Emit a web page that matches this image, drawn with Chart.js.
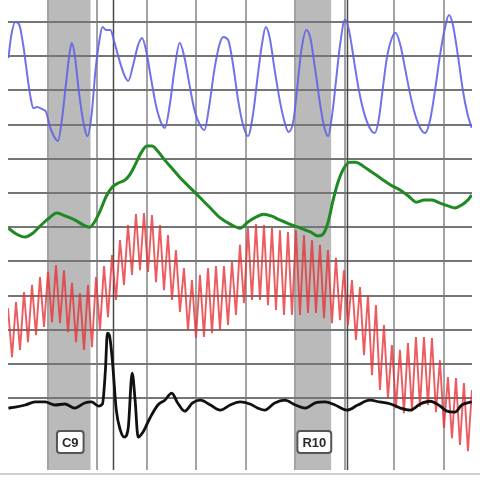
<!DOCTYPE html>
<html>
<head>
<meta charset="utf-8">
<script src="https://cdn.jsdelivr.net/npm/chart.js@4.4.1/dist/chart.umd.min.js"></script>
<style>
  html, body { margin: 0; padding: 0; background: #fff; }
  #chartBox { width: 480px; height: 480px; }
</style>
</head>
<body>
<div id="chartBox"><canvas id="chart" width="480" height="480"></canvas></div>
<script>
// time axis in tenths of a second, trace amplitude in chart divisions x10
const gridTimes = [50, 100, 150, 200, 250, 300, 350, 400, 450];
const gridLevels = [10, 20, 30, 40, 50, 60, 70, 80, 90, 100, 110, 120];

// question markers
const questionLabels = ['C9', 'R10'];
const questionStart = [50, 300];
const questionEnd = [93, 336];
const answerTime = [116, 352];

// pneumo (blue)
const blueTime = [10, 13, 17, 21, 25, 29, 32, 35, 39, 44, 48, 52, 56, 60, 64, 68, 72, 74, 77, 81,
  85, 90, 94, 98, 102, 105, 109, 113, 117, 122, 127, 131, 136, 141, 145, 149, 154, 159, 164, 168,
  173, 178, 183, 188, 193, 198, 204, 208, 213, 218, 223, 227, 232, 237, 242, 247, 252, 257, 262, 266,
  270, 274, 279, 284, 289, 293, 298, 302, 306, 311, 315, 320, 325, 329, 333, 337, 341, 345, 350, 354,
  359, 364, 369, 375, 380, 384, 388, 392, 396, 401, 406, 411, 416, 421, 426, 431, 436, 441, 446, 451,
  455, 459, 464, 469, 474, 478];
const blueValues = [109.4, 116.2, 120.0, 119.1, 113.2, 104.5, 98.6, 94.8, 95.1, 94.5, 93.7, 89.3, 86.6, 85.2, 91.3, 101.5, 111.2, 113.8, 110.3, 100.1,
  91.9, 86.6, 92.8, 105.9, 114.7, 118.5, 117.6, 117.6, 114.1, 108.9, 104.5, 102.7, 107.4, 113.2, 115.3, 111.8, 103.6, 95.7, 90.7, 89.0,
  95.7, 106.5, 113.8, 109.4, 101.5, 94.2, 89.6, 88.4, 95.7, 105.9, 113.2, 115.6, 114.7, 107.4, 97.2, 89.9, 86.6, 92.8, 104.5, 113.2,
  118.5, 115.3, 105.9, 97.2, 90.7, 87.8, 91.3, 101.5, 111.8, 117.6, 115.3, 105.9, 95.7, 89.3, 86.6, 92.8, 103.0, 113.2, 120.6, 117.6,
  108.9, 100.1, 93.7, 89.0, 87.5, 91.3, 100.1, 108.9, 114.1, 116.8, 113.2, 105.9, 98.6, 92.8, 89.0, 87.5, 91.3, 100.1, 110.3, 118.2,
  122.0, 119.1, 110.3, 100.1, 92.8, 89.0];

// skin conductance (green)
const greenTime = [10, 18, 27, 35, 42, 50, 59, 68, 77, 86, 92, 97, 103, 109, 115, 121, 128, 133, 138, 144,
  150, 155, 161, 168, 175, 183, 193, 204, 214, 224, 234, 244, 252, 260, 268, 276, 284, 294, 305, 315,
  323, 328, 333, 338, 343, 349, 355, 361, 368, 377, 387, 398, 406, 414, 422, 430, 438, 446, 454, 461,
  468, 474, 478];
const greenValues = [59.7, 58.0, 57.1, 58.3, 60.3, 62.4, 64.1, 63.2, 62.1, 60.6, 60.0, 61.5, 65.0, 69.1, 71.7, 72.9, 73.8, 75.5, 78.2, 81.7,
  83.7, 83.7, 82.2, 79.6, 77.3, 74.6, 71.7, 68.5, 65.6, 62.7, 60.9, 59.7, 61.5, 62.9, 63.8, 63.2, 62.1, 60.9, 59.7, 58.6,
  57.4, 58.0, 61.5, 67.9, 73.2, 77.3, 79.0, 79.0, 77.9, 76.1, 74.1, 72.0, 70.8, 69.1, 67.3, 67.9, 67.9, 67.0, 66.2, 65.6,
  66.5, 67.9, 69.4];

// cardio (red), sampled every 4.04 time units from 9.6
const redStart = 9.6;
const redStep = 4.04;
const redValues = [36.3, 22.0, 38.1, 24.1, 41.0, 26.4, 43.1, 28.4, 45.4, 30.8,
  46.9, 32.2, 48.9, 31.9, 47.4, 29.3, 43.7, 26.4, 40.7, 24.1,
  43.1, 24.9, 45.4, 29.9, 48.6, 33.7, 51.8, 38.7, 56.2, 43.1,
  60.6, 46.0, 63.8, 47.4, 64.1, 46.9, 63.5, 43.9, 60.6, 41.6,
  57.7, 38.7, 53.3, 35.2, 48.0, 29.9, 44.5, 27.6, 46.0, 27.9,
  48.0, 29.0, 48.6, 29.9, 48.6, 31.4, 49.8, 34.3, 54.8, 37.8,
  59.7, 38.7, 60.9, 38.7, 60.6, 37.2, 59.7, 35.8, 59.1, 34.3,
  58.6, 34.3, 59.1, 34.3, 57.7, 34.9, 56.2, 34.9, 54.8, 33.4,
  53.3, 31.9, 51.0, 32.8, 47.4, 31.4, 44.5, 27.0, 42.5, 22.6,
  40.1, 16.7, 37.2, 12.4, 31.4, 10.0, 25.5, 7.1, 24.1, 5.6,
  26.1, 6.5, 27.9, 7.4, 27.9, 8.0, 27.6, 5.9, 21.1, 1.3,
  16.2, -1.7, 15.9, -3.7, 14.4, -5.5, 12.4];

// movement sensor (black)
const blackTime = [10, 17, 27, 37, 47, 57, 67, 77, 87, 94, 101, 105, 108, 110, 112, 115, 119, 123, 127, 131,
  135, 138, 141, 146, 153, 161, 168, 175, 181, 188, 196, 204, 214, 224, 234, 244, 254, 262, 269, 279,
  289, 300, 310, 320, 330, 340, 352, 363, 375, 385, 396, 406, 416, 426, 436, 446, 453, 461, 468, 478];
const blackValues = [7.1, 7.4, 8.0, 8.9, 8.9, 8.0, 8.3, 7.1, 8.6, 8.9, 7.7, 8.3, 18.2, 29.0, 28.4, 21.1, 6.5, 0.7, -1.4, 1.2,
  17.3, 9.4, -1.4, 0.1, 4.2, 8.0, 9.4, 11.5, 8.6, 6.2, 8.6, 9.4, 8.0, 6.5, 8.0, 8.9, 8.3, 7.1, 6.5, 8.6,
  9.4, 8.0, 7.1, 8.6, 8.9, 8.0, 6.5, 8.0, 9.4, 8.9, 8.3, 7.1, 6.5, 8.3, 9.1, 7.7, 6.2, 5.9, 8.0, 8.9];

const toPoints = (times, values) => values.map((v, i) => ({ x: times[i], y: v }));
const redPoints = redValues.map((v, i) => ({ x: redStart + i * redStep, y: v }));

const chartPaper = {
  id: 'chartPaper',
  beforeDraw(chart) {
    const { ctx, chartArea, scales } = chart;
    ctx.save();
    ctx.fillStyle = '#bababa';
    questionStart.forEach((s, i) => {
      const x1 = scales.x.getPixelForValue(s);
      const x2 = scales.x.getPixelForValue(questionEnd[i]);
      ctx.fillRect(x1, chartArea.top, x2 - x1, chartArea.bottom - chartArea.top);
    });
    ctx.restore();
  },
  beforeDatasetsDraw(chart) {
    const { ctx, chartArea, scales } = chart;
    ctx.save();
    ctx.strokeStyle = '#4a4a4a';
    ctx.lineWidth = 1.5;
    answerTime.forEach(t => {
      const x = Math.round(scales.x.getPixelForValue(t)) + 0.5;
      ctx.beginPath();
      ctx.moveTo(x, chartArea.top);
      ctx.lineTo(x, chartArea.bottom);
      ctx.stroke();
    });
    ctx.restore();
  },
  afterDraw(chart) {
    const { ctx, scales } = chart;
    ctx.save();
    ctx.fillStyle = '#cfcfcf';
    ctx.fillRect(0, 473, chart.width, 2);

    ctx.font = 'bold 13px "Liberation Sans", Arial, sans-serif';
    ctx.textAlign = 'center';
    ctx.textBaseline = 'middle';
    questionLabels.forEach((label, i) => {
      const cx = (scales.x.getPixelForValue(questionStart[i]) + scales.x.getPixelForValue(questionEnd[i])) / 2 + 1;
      const w = ctx.measureText(label).width + 10;
      const h = 22;
      const top = 431;
      ctx.fillStyle = '#ffffff';
      ctx.strokeStyle = '#555555';
      ctx.lineWidth = 2;
      ctx.beginPath();
      ctx.roundRect(cx - w / 2, top, w, h, 3);
      ctx.fill();
      ctx.stroke();
      ctx.fillStyle = '#2a2a2a';
      ctx.fillText(label, cx, top + h / 2 + 1);
    });
    ctx.restore();
  }
};

const ctx = document.getElementById('chart').getContext('2d');
new Chart(ctx, {
  type: 'line',
  data: {
    datasets: [
      {
        label: 'Movement',
        data: toPoints(blackTime, blackValues),
        borderColor: '#111111',
        borderWidth: 2.8,
        cubicInterpolationMode: 'monotone'
      },
      {
        label: 'Cardio',
        data: redPoints,
        borderColor: 'rgba(230, 50, 55, 0.8)',
        borderWidth: 1.9,
        tension: 0
      },
      {
        label: 'EDA',
        data: toPoints(greenTime, greenValues),
        borderColor: '#1f8a22',
        borderWidth: 3,
        cubicInterpolationMode: 'monotone'
      },
      {
        label: 'Pneumo',
        data: toPoints(blueTime, blueValues),
        borderColor: 'rgba(98, 98, 232, 0.9)',
        borderWidth: 2,
        cubicInterpolationMode: 'monotone'
      }
    ]
  },
  options: {
    responsive: false,
    animation: false,
    layout: { padding: { left: 8, right: 8, top: 0, bottom: 10 } },
    elements: { point: { radius: 0 } },
    plugins: {
      legend: { display: false },
      tooltip: { enabled: false }
    },
    scales: {
      x: {
        type: 'linear',
        min: 9.6,
        max: 478.3,
        afterBuildTicks: scale => { scale.ticks = gridTimes.map(v => ({ value: v })); },
        ticks: { display: false },
        border: { display: false },
        grid: { color: '#a3a3a3', lineWidth: 2, drawTicks: false }
      },
      y: {
        min: -11.0,
        max: 126.4,
        afterBuildTicks: scale => { scale.ticks = gridLevels.map(v => ({ value: v })); },
        ticks: { display: false },
        border: { display: false },
        grid: { color: '#767676', lineWidth: 2, drawTicks: false }
      }
    }
  },
  plugins: [chartPaper]
});
</script>
</body>
</html>
